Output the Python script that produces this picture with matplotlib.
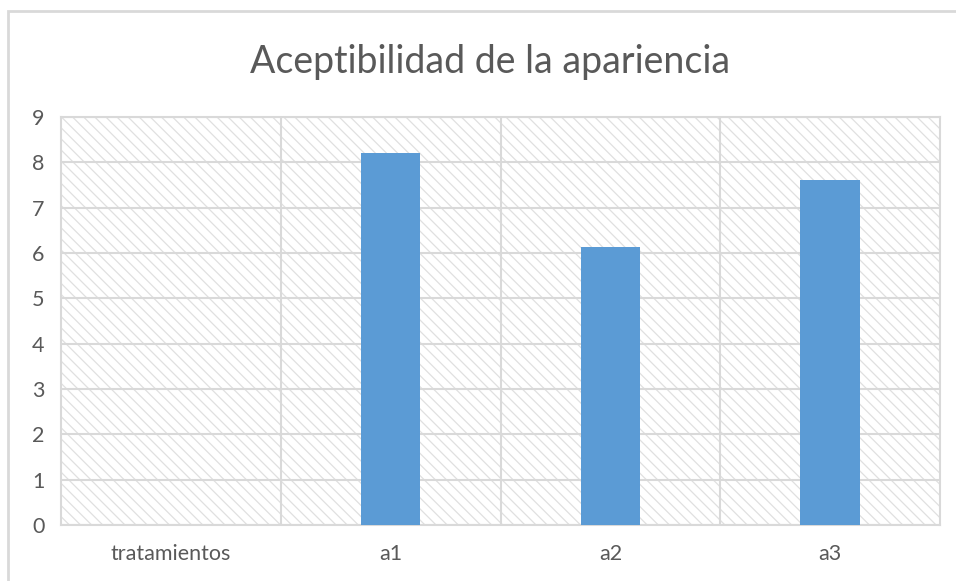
import matplotlib
matplotlib.use("Agg")
from matplotlib import pyplot as plt
from matplotlib.patches import Rectangle

# --- Data ---
categories = ["tratamientos", "a1", "a2", "a3"]
values = [0, 8.2, 6.14, 7.6]
title = "Aceptibilidad de la apariencia"

TEXT = "#595959"
GRID = "#d9d9d9"
BAR = "#5b9bd5"

plt.rcParams["font.family"] = ["Lato", "DejaVu Sans"]
plt.rcParams["hatch.color"] = "#e0e0e0"
plt.rcParams["hatch.linewidth"] = 0.9

fig = plt.figure(figsize=(9.56, 5.81), dpi=100)
# outer chart frame (only left/top visible in the reference)
fig.patches.append(Rectangle((8 / 956, -0.1), 1.2, 1 - 11 / 581 + 0.1,
                             transform=fig.transFigure, fill=False,
                             edgecolor=GRID, linewidth=2))

ax = fig.add_axes([61 / 956, 1 - 525 / 581, (940 - 61) / 956, (525 - 117) / 581])
ax.set_xlim(-0.5, len(categories) - 0.5)
ax.set_ylim(0, 9)

# hatched background
ax.add_patch(Rectangle((0, 0), 1, 1, transform=ax.transAxes, facecolor="white",
                       hatch="\\\\\\", linewidth=0, zorder=0))

x = list(range(len(categories)))
ax.bar(x, values, width=0.27, color=BAR, zorder=3)

# gridlines
for y in range(0, 10):
    ax.axhline(y, color=GRID, linewidth=1.5, zorder=1)
for b in [0.5, 1.5, 2.5]:
    ax.axvline(b, color=GRID, linewidth=1.5, zorder=1)

for s in ax.spines.values():
    s.set_color(GRID)
    s.set_linewidth(1.5)

ax.set_xticks(x)
ax.set_xticklabels(categories)
ax.set_yticks(range(0, 10))
ax.tick_params(length=0, labelsize=15.5, colors=TEXT, pad=12)
ax.tick_params(axis="x", pad=14)

fig.text(490 / 956, 1 - 62 / 581, title, ha="center", va="center",
         fontsize=27, color=TEXT)

fig.savefig("out.png", dpi=100)
